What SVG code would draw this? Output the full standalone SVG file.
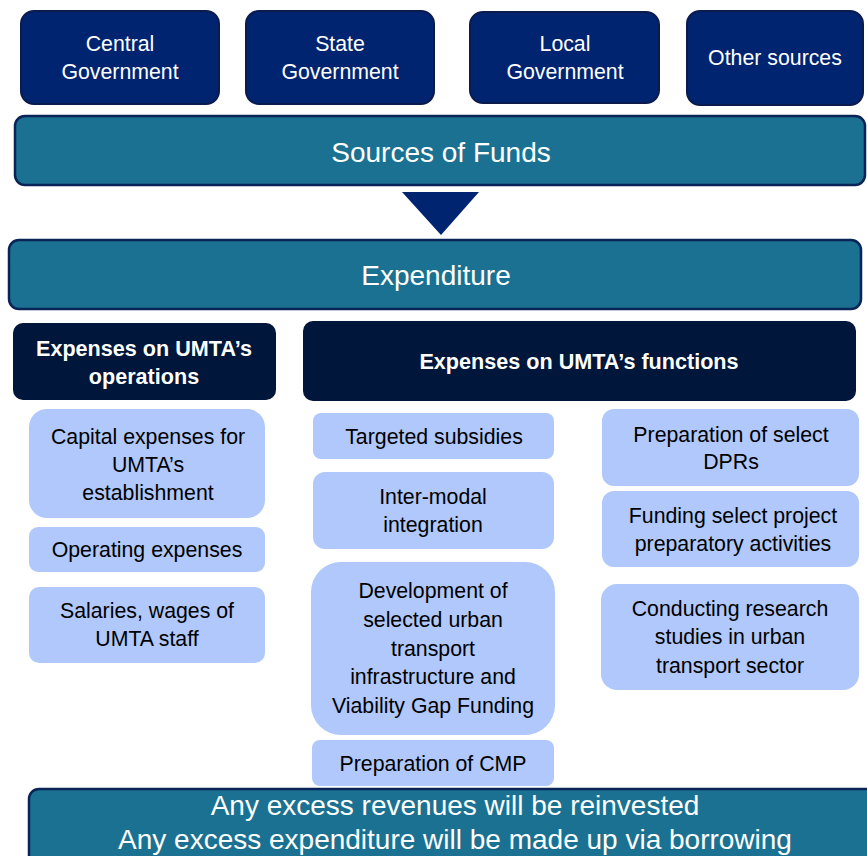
<svg xmlns="http://www.w3.org/2000/svg" width="867" height="856" viewBox="0 0 867 856">
<style>
.src{fill:#00246F;stroke:#0B1B4E;stroke-width:2}
.bar{fill:#1B7191;stroke:#0A2457;stroke-width:2.5}
.hdr{fill:#00163B}
.item{fill:#B0C8FB}
.tw{font-family:"Liberation Sans",Arial,sans-serif;fill:#FFFFFF;text-anchor:middle}
.tb{font-family:"Liberation Sans",Arial,sans-serif;fill:#000000;text-anchor:middle;font-size:21.3px}
.s21{font-size:21.3px}
.s28{font-size:28px}
.bold{font-weight:bold;font-size:21.6px}
</style>
<rect width="867" height="856" fill="#FFFFFF"/>
<g id="central">
<rect class="src" x="21" y="11" width="198" height="93" rx="13"/>
<text class="tw s21" x="120" y="51">Central</text>
<text class="tw s21" x="120" y="79">Government</text>
</g>
<g id="state">
<rect class="src" x="246" y="11" width="188" height="93" rx="13"/>
<text class="tw s21" x="340" y="51">State</text>
<text class="tw s21" x="340" y="79">Government</text>
</g>
<g id="local">
<rect class="src" x="470" y="12" width="189" height="91" rx="13"/>
<text class="tw s21" x="565" y="51">Local</text>
<text class="tw s21" x="565" y="79">Government</text>
</g>
<g id="other">
<rect class="src" x="687" y="11" width="176" height="94" rx="13"/>
<text class="tw s21" x="775" y="65">Other sources</text>
</g>
<g id="sources">
<rect class="bar" x="15" y="116" width="850" height="69" rx="10"/>
<text class="tw s28" x="441" y="162">Sources of Funds</text>
</g>
<g id="connectors">
<polygon points="402,192 479,192 441,235" fill="#00246F"/>
</g>
<g id="expenditure">
<rect class="bar" x="9" y="240" width="852" height="69" rx="10"/>
<text class="tw s28" x="436" y="285">Expenditure</text>
</g>
<g id="ops">
<rect class="hdr" x="13" y="323" width="263" height="77" rx="10"/>
<text class="tw bold" x="144" y="356">Expenses on UMTA’s</text>
<text class="tw bold" x="144" y="384">operations</text>
</g>
<g id="functions">
<rect class="hdr" x="303" y="321" width="553" height="80" rx="10"/>
<text class="tw bold" x="579" y="369">Expenses on UMTA’s functions</text>
</g>
<g id="capital">
<rect class="item" x="29" y="409" width="236" height="109" rx="18"/>
<text class="tb" x="148" y="444">Capital expenses for</text>
<text class="tb" x="148" y="472">UMTA’s</text>
<text class="tb" x="148" y="500">establishment</text>
</g>
<g id="operating">
<rect class="item" x="29" y="527" width="236" height="45" rx="9"/>
<text class="tb" x="147" y="557">Operating expenses</text>
</g>
<g id="salaries">
<rect class="item" x="29" y="587" width="236" height="76" rx="10"/>
<text class="tb" x="147" y="618">Salaries, wages of</text>
<text class="tb" x="147" y="646">UMTA staff</text>
</g>
<g id="subsidies">
<rect class="item" x="313" y="413" width="241" height="46" rx="8"/>
<text class="tb" x="434" y="444">Targeted subsidies</text>
</g>
<g id="intermodal">
<rect class="item" x="313" y="472" width="241" height="77" rx="12"/>
<text class="tb" x="433" y="504">Inter-modal</text>
<text class="tb" x="433" y="532">integration</text>
</g>
<g id="development">
<rect class="item" x="311" y="562" width="244" height="173" rx="30"/>
<text class="tb" x="433" y="598">Development of</text>
<text class="tb" x="433" y="627">selected urban</text>
<text class="tb" x="433" y="656">transport</text>
<text class="tb" x="433" y="684">infrastructure and</text>
<text class="tb" x="433" y="713">Viability Gap Funding</text>
</g>
<g id="cmp">
<rect class="item" x="312" y="740" width="242" height="46" rx="8"/>
<text class="tb" x="433" y="771">Preparation of CMP</text>
</g>
<g id="dprs">
<rect class="item" x="602" y="409" width="257" height="77" rx="12"/>
<text class="tb" x="731" y="442">Preparation of select</text>
<text class="tb" x="731" y="469">DPRs</text>
</g>
<g id="funding">
<rect class="item" x="602" y="491" width="257" height="76" rx="12"/>
<text class="tb" x="733" y="523">Funding select project</text>
<text class="tb" x="733" y="551">preparatory activities</text>
</g>
<g id="research">
<rect class="item" x="601" y="584" width="258" height="106" rx="16"/>
<text class="tb" x="730" y="616">Conducting research</text>
<text class="tb" x="730" y="644">studies in urban</text>
<text class="tb" x="730" y="673">transport sector</text>
</g>
<g id="note">
<rect class="bar" x="29" y="789" width="860" height="90" rx="10"/>
<text class="tw s28" x="455" y="815">Any excess revenues will be reinvested</text>
<text class="tw s28" x="455" y="849">Any excess expenditure will be made up via borrowing</text>
</g>
</svg>
